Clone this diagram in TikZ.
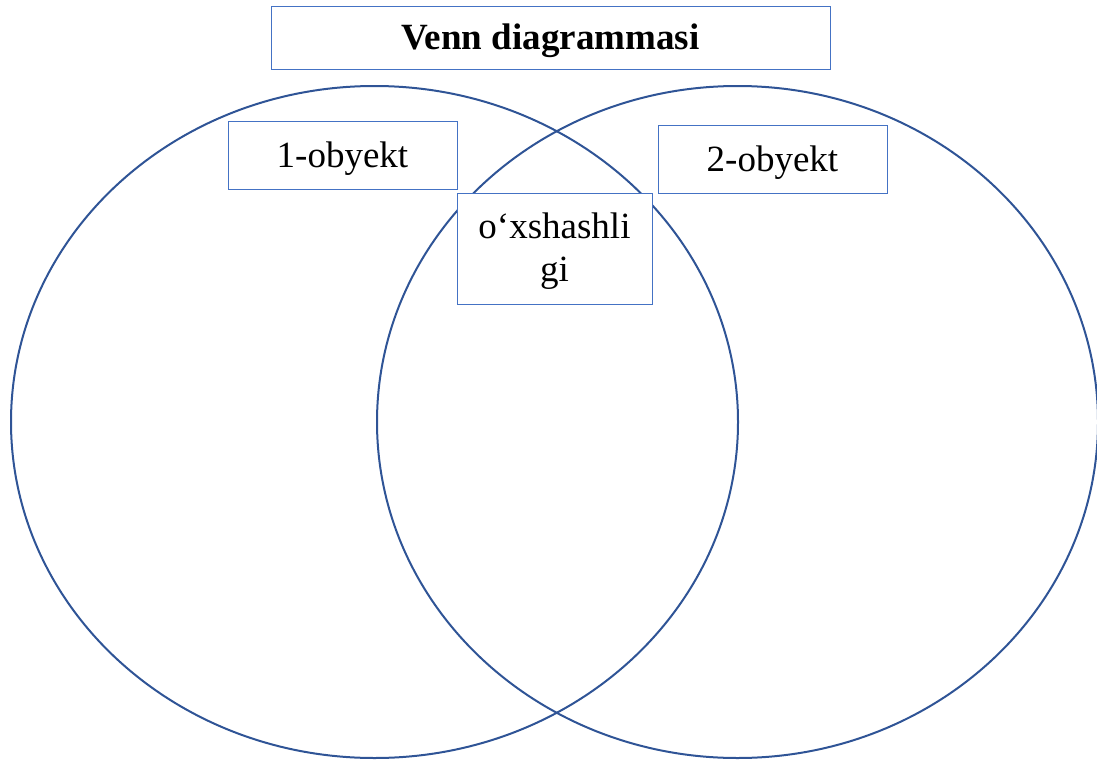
\documentclass[tikz,border=0pt]{standalone}
\usepackage{fontspec}
\setmainfont{Liberation Serif}
\definecolor{ringblue}{HTML}{2F5496}
\definecolor{boxblue}{HTML}{4472C4}
\tikzset{
  ring/.style={draw=ringblue, line width=2pt},
  labelbox/.style={draw=boxblue, line width=0.9pt, fill=white, inner sep=0pt, font=\fontsize{37}{43}\selectfont, align=center},
  lowered/.style={text height=29pt, text depth=4pt},
  boxtext/.style={inner sep=0pt, font=\fontsize{37}{43}\selectfont, align=center}
}
\begin{document}
\begin{tikzpicture}[x=1pt,y=-1pt]
\useasboundingbox (0,0) rectangle (1097,760);
\draw[ring] (374.5,422) ellipse [x radius=363.5, y radius=336];
\draw[ring] (737.5,422) ellipse [x radius=360.5, y radius=336];
\node[labelbox, lowered, minimum width=559pt, minimum height=63pt, font=\fontsize{37}{43}\selectfont\bfseries] (title) at (550.5,37.5) {Venn diagrammasi};
\node[labelbox, lowered, minimum width=229pt, minimum height=68pt] (obj1) at (342.5,155) {1-obyekt};
\node[labelbox, lowered, minimum width=229pt, minimum height=68pt] (obj2) at (772.5,159) {2-obyekt};
\node[labelbox, minimum width=195pt, minimum height=111pt] (common) at (554.5,248.5) {};
\node[boxtext, yshift=-3pt] (commontext) at (common.center) {o‘xshashli\\gi};
\end{tikzpicture}
\end{document}
